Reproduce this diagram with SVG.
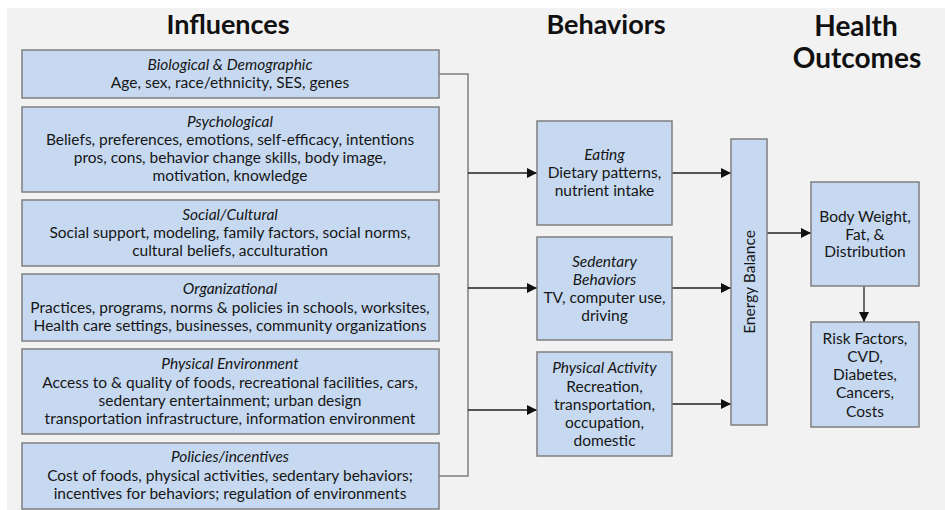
<svg xmlns="http://www.w3.org/2000/svg" width="945" height="510" viewBox="0 0 945 510">
<defs>
<marker id="ah" viewBox="0 0 10 10" refX="10" refY="5" markerWidth="10" markerHeight="11" markerUnits="userSpaceOnUse" orient="auto">
<path d="M0,0 L10,5 L0,10 z" fill="#111"/>
</marker>
<style>
.bx{fill:#c6d9f1;stroke:#7f7f7f;stroke-width:1.5}
text{font-family:Lato,"Liberation Sans",sans-serif;fill:#161616;text-anchor:middle}
.t{font-size:15.5px}
.i{font-style:italic}
.h{font-size:27px;font-weight:bold;fill:#111}
.ln{fill:none;stroke:#7f7f7f;stroke-width:1.5}
.ar{fill:none;stroke:#222;stroke-width:1.3;marker-end:url(#ah)}
</style>
</defs>
<rect x="0" y="0" width="945" height="510" fill="#ffffff"/>
<rect x="7" y="8" width="938" height="502" fill="#f2f2f2"/>

<g id="titles">
<text class="h" x="228" y="34">Influences</text>
<text class="h" x="606" y="34">Behaviors</text>
<text class="h" x="856" y="36" style="font-size:28px">Health</text>
<text class="h" x="857" y="68" style="font-size:28px">Outcomes</text>
</g>

<g id="connectors">
<polyline class="ln" points="439,74 468,74 468,476 439,476"/>
<line class="ar" x1="468" y1="173" x2="537" y2="173"/>
<line class="ar" x1="468" y1="288" x2="537" y2="288"/>
<line class="ar" x1="468" y1="410" x2="537" y2="410"/>
<line class="ar" x1="672" y1="173" x2="731" y2="173"/>
<line class="ar" x1="672" y1="288" x2="731" y2="288"/>
<line class="ar" x1="672" y1="404" x2="731" y2="404"/>
<line class="ar" x1="767" y1="233" x2="811" y2="233"/>
<line class="ar" x1="864" y1="286" x2="864" y2="322"/>
</g>

<g id="biological">
<rect class="bx" x="22" y="50" width="417" height="48"/>
<text class="t i" x="230" y="70">Biological &amp; Demographic</text>
<text class="t" x="230" y="88">Age, sex, race/ethnicity, SES, genes</text>
</g>
<g id="psychological">
<rect class="bx" x="22" y="107" width="417" height="85"/>
<text class="t i" x="230" y="127">Psychological</text>
<text class="t" x="230" y="145">Beliefs, preferences, emotions, self-efficacy, intentions</text>
<text class="t" x="230" y="163">pros, cons, behavior change skills, body image,</text>
<text class="t" x="230" y="181">motivation, knowledge</text>
</g>
<g id="social">
<rect class="bx" x="22" y="200" width="417" height="66"/>
<text class="t i" x="230" y="220">Social/Cultural</text>
<text class="t" x="230" y="238">Social support, modeling, family factors, social norms,</text>
<text class="t" x="230" y="256">cultural beliefs, acculturation</text>
</g>
<g id="organizational">
<rect class="bx" x="22" y="274" width="417" height="67"/>
<text class="t i" x="230" y="294">Organizational</text>
<text class="t" x="230" y="313">Practices, programs, norms &amp; policies in schools, worksites,</text>
<text class="t" x="230" y="331">Health care settings, businesses, community organizations</text>
</g>
<g id="physical-environment">
<rect class="bx" x="22" y="349" width="417" height="85"/>
<text class="t i" x="230" y="369">Physical Environment</text>
<text class="t" x="230" y="388">Access to &amp; quality of foods, recreational facilities, cars,</text>
<text class="t" x="230" y="406">sedentary entertainment; urban design</text>
<text class="t" x="230" y="424">transportation infrastructure, information environment</text>
</g>
<g id="policies">
<rect class="bx" x="22" y="443" width="417" height="66"/>
<text class="t i" x="230" y="462">Policies/incentives</text>
<text class="t" x="230" y="481">Cost of foods, physical activities, sedentary behaviors;</text>
<text class="t" x="230" y="499">incentives for behaviors; regulation of environments</text>
</g>

<g id="eating">
<rect class="bx" x="537" y="121" width="135" height="104"/>
<text class="t i" x="604.5" y="160">Eating</text>
<text class="t" x="604.5" y="178">Dietary patterns,</text>
<text class="t" x="604.5" y="196">nutrient intake</text>
</g>
<g id="sedentary">
<rect class="bx" x="537" y="237" width="135" height="103"/>
<text class="t i" x="604.5" y="267">Sedentary</text>
<text class="t i" x="604.5" y="285">Behaviors</text>
<text class="t" x="604.5" y="303">TV, computer use,</text>
<text class="t" x="604.5" y="321">driving</text>
</g>
<g id="physical-activity">
<rect class="bx" x="537" y="352" width="135" height="104"/>
<text class="t i" x="604.5" y="373">Physical Activity</text>
<text class="t" x="604.5" y="392">Recreation,</text>
<text class="t" x="604.5" y="410">transportation,</text>
<text class="t" x="604.5" y="428">occupation,</text>
<text class="t" x="604.5" y="446">domestic</text>
</g>

<g id="energy-balance">
<rect class="bx" x="731" y="139" width="36" height="286"/>
<text class="t" transform="translate(754.5,282) rotate(-90)" x="0" y="0">Energy Balance</text>
</g>

<g id="body-weight">
<rect class="bx" x="811" y="182" width="108" height="104"/>
<text class="t" x="865" y="222">Body Weight,</text>
<text class="t" x="865" y="240">Fat, &amp;</text>
<text class="t" x="865" y="257">Distribution</text>
</g>
<g id="risk-factors">
<rect class="bx" x="811" y="322" width="108" height="105"/>
<text class="t" x="865" y="344">Risk Factors,</text>
<text class="t" x="865" y="362">CVD,</text>
<text class="t" x="865" y="380">Diabetes,</text>
<text class="t" x="865" y="398">Cancers,</text>
<text class="t" x="865" y="417">Costs</text>
</g>
</svg>
